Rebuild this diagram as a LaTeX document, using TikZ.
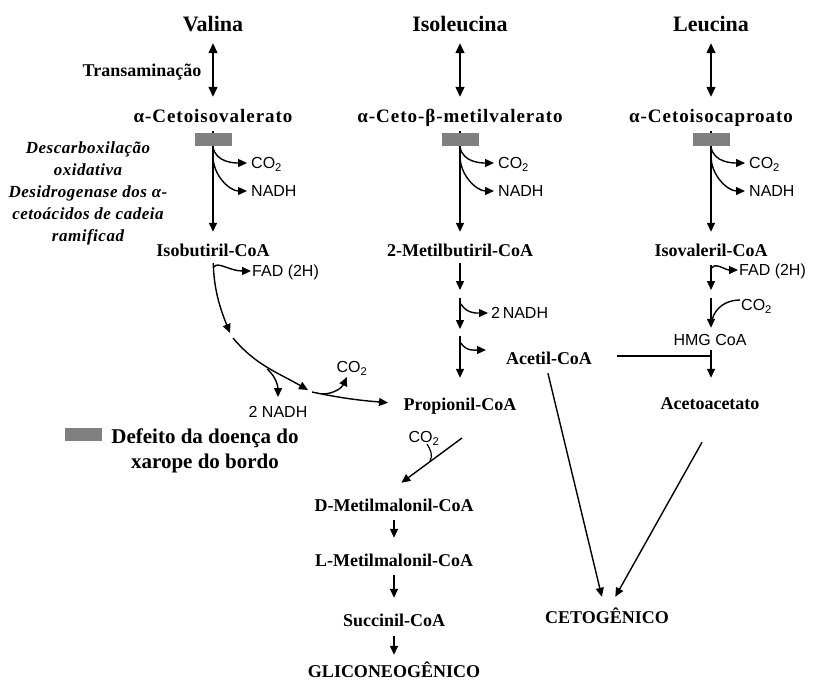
\documentclass[tikz,border=0pt]{standalone}
\usepackage{fontspec}
\setmainfont{Liberation Serif}
\setsansfont{Liberation Sans}
\usetikzlibrary{arrows.meta}

\tikzset{
  aa/.style={font=\bfseries\fontsize{22}{24}\selectfont, text height=14.5pt, text depth=0pt, inner sep=1pt},
  met/.style={font=\bfseries\fontsize{18}{20}\selectfont, text height=12pt, text depth=0pt, inner sep=1pt},
  ceto/.style={met, font={\bfseries\fontsize{19}{20}\selectfont\addfontfeature{LetterSpace=5}}},
  cof/.style={font=\sffamily\fontsize{16}{18}\selectfont, text height=11.5pt, text depth=0pt, inner sep=1pt},
  msud/.style={fill=gray, minimum width=37pt, minimum height=13pt, inner sep=0pt},
  legtext/.style={font=\bfseries\fontsize{21}{24}\selectfont, text height=13.8pt, text depth=0pt, inner sep=1pt},
  flow/.style={line width=1.4pt, -{Triangle[length=9pt,width=8pt]}},
  rev/.style={line width=1.4pt, {Triangle[length=10pt,width=9pt]}-{Triangle[length=10pt,width=9pt]}},
}

\begin{document}
\begin{tikzpicture}[x=1pt, y=-1pt]
\useasboundingbox (0,0) rectangle (816,682);

% === Amino acids and transamination ===
\node[aa] (val) at (213,24) {Valina};
\node[aa] (ile) at (460,24) {Isoleucina};
\node[aa] (leu) at (711,24) {Leucina};

\node[ceto] (kiv) at (213,117) {α-Cetoisovalerato};
\node[ceto] (kmv) at (460,117) {α-Ceto-β-metilvalerato};
\node[ceto] (kic) at (711,117) {α-Cetoisocaproato};

\node[met] (trans) at (142,71) {Transaminação};

\draw[rev, shorten <=10.75pt, shorten >=13pt] (val.south) -- (val.south |- kiv.north);
\draw[rev, shorten <=10.75pt, shorten >=13pt] (ile.south) -- (ile.south |- kmv.north);
\draw[rev, shorten <=10.75pt, shorten >=13pt] (leu.south) -- (leu.south |- kic.north);

% === Branched-chain dehydrogenase ===
\node[font={\bfseries\itshape\fontsize{17}{22}\selectfont\addfontfeature{LetterSpace=3}}, align=center, inner sep=0pt] (enz) at (88,193.5)
  {Descarboxilação\\oxidativa\\Desidrogenase dos α-\\cetoácidos de cadeia\\ramificad};

\node[met] (isob) at (213,250) {Isobutiril-CoA};
\node[met] (mbut) at (460,250) {2-Metilbutiril-CoA};
\node[met] (isov) at (711,250) {Isovaleril-CoA};

\draw[flow, shorten <=7pt, shorten >=11pt] (kiv) -- (isob);
\draw[flow, shorten <=7pt, shorten >=11pt] (kmv) -- (mbut);
\draw[flow, shorten <=7pt, shorten >=11pt] (kic) -- (isov);

\node[msud] (bv) at (213,139.5) {};
\node[msud] (bi) at (460,139.5) {};
\node[msud] (bl) at (711,139.5) {};

\node[cof, anchor=west] (cov) at (250,163) {CO\textsubscript{2}};
\node[cof, anchor=west] (nav) at (250,191) {NADH};
\node[cof, anchor=west] (coi) at (497,163) {CO\textsubscript{2}};
\node[cof, anchor=west] (nai) at (497,191) {NADH};
\node[cof, anchor=west] (col) at (748,163) {CO\textsubscript{2}};
\node[cof, anchor=west] (nal) at (748,191) {NADH};

\coordinate (v1) at (213,147);
\coordinate (v2) at (213,156);
\coordinate (i1) at (460,147);
\coordinate (i2) at (460,156);
\coordinate (l1) at (711,147);
\coordinate (l2) at (711,156);
\draw[flow, shorten >=3pt] (v1) to[out=-80,in=180] (cov.west);
\draw[flow, shorten >=3pt] (v2) to[out=-90,in=180] (nav.west);
\draw[flow, shorten >=3pt] (i1) to[out=-80,in=180] (coi.west);
\draw[flow, shorten >=3pt] (i2) to[out=-90,in=180] (nai.west);
\draw[flow, shorten >=3pt] (l1) to[out=-80,in=180] (col.west);
\draw[flow, shorten >=3pt] (l2) to[out=-90,in=180] (nal.west);

% === Valina branch ===
\node[cof, anchor=west] (fadv) at (251,271) {FAD (2H)};
\node[cof] (nadhv) at (278,412) {2 NADH};
\node[cof] (co2v) at (352,367) {CO\textsubscript{2}};
\node[met] (prop) at (460,404) {Propionil-CoA};

\coordinate (v3) at (214,267);
\coordinate (v4) at (230,333);
\coordinate (v5) at (233,338);
\coordinate (v6) at (308,390);
\coordinate (v7) at (267,369);
\coordinate (v8) at (312,392);
\coordinate (v9) at (322,394);

\draw[flow] (v3) .. controls (217,261) and (230,271) .. (fadv.west);
\draw[flow, shorten <=6pt] (isob.south) to[out=-88,in=112] (v4);
\draw[flow] (v5) to[out=-50,in=150] (v6);
\draw[flow, shorten >=8pt] (v7) to[out=-40,in=90] (nadhv.north);
\draw[flow, shorten >=14.5pt] (v8) to[out=-12,in=175] (prop.west);
\draw[flow] (v9) to[out=0,in=-115] ([xshift=-5pt,yshift=-3pt]co2v.south);

% === Isoleucina branch ===
\node[cof, anchor=west] (nadhi) at (490,313) {2\,NADH};
\node[met] (acet) at (549,358) {Acetil-CoA};

\coordinate (i3) at (460,290);
\coordinate (i4) at (460,298);
\coordinate (i5) at (460,329);
\coordinate (i6) at (461,304);
\coordinate (i7) at (460,336);
\coordinate (i8) at (461,343);
\coordinate (i9) at (486,350);

\draw[flow, shorten <=6pt] (mbut.south) -- (i3);
\draw[flow] (i4) -- (i5);
\draw[flow, shorten >=2pt] (i6) to[out=-60,in=180] (nadhi.west);
\draw[flow, shorten >=19pt] (i7) -- (prop.north);
\draw[flow] (i8) to[out=-60,in=180] (i9);

% === Leucina branch ===
\node[cof, anchor=west] (fadl) at (738,270) {FAD (2H)};
\node[cof, anchor=west] (co2l) at (740,305) {CO\textsubscript{2}};
\node[cof] (hmg) at (710,340) {HMG CoA};
\node[met] (aceta) at (710,403) {Acetoacetato};

\coordinate (l3) at (711,290);
\coordinate (l4) at (712,268);
\coordinate (l5) at (711,298);
\coordinate (l6) at (712,320);
\coordinate (tee) at (711,356);

\draw[flow, shorten <=8pt] (isov.south) -- (l3);
\draw[flow] (l4) .. controls (715,262) and (725,270) .. (fadl.west);
\draw[flow, shorten >=5.25pt] (l5) -- (l5 |- hmg.north);
\draw[line width=1.4pt] ([yshift=5pt]co2l.west) to[out=180,in=75] (l6);
\draw[flow, shorten <=3.25pt, shorten >=18pt] (hmg.south -| tee) -- (tee |- aceta.north);
\draw[line width=1.4pt, shorten <=24pt] (acet.east |- tee) -- (tee);

% === Propionil-CoA to succinil-CoA ===
\node[cof] (co2p) at (424,437) {CO\textsubscript{2}};
\node[met] (dmet) at (394,505) {D-Metilmalonil-CoA};
\node[met] (lmet) at (394,560) {L-Metilmalonil-CoA};
\node[met] (succ) at (394,620) {Succinil-CoA};
\node[met] (glic) at (394,671) {GLICONEOGÊNICO};
\node[met] (cetog) at (607,617) {CETOGÊNICO};

\coordinate (p0) at (462,438);
\coordinate (p1) at (430,461);

\draw[flow, shorten >=25.3pt] (p0) -- ([xshift=-13pt]dmet.north);
\draw[line width=1.2pt] ([xshift=3pt]co2p.south) to[out=-60,in=60] (p1);
\draw[flow, shorten <=8pt, shorten >=15pt] (dmet) -- (lmet);
\draw[flow, shorten <=8pt, shorten >=15pt] (lmet) -- (succ);
\draw[flow, shorten <=9pt, shorten >=9pt] (succ) -- (glic);

% === Ketogenic ===
\draw[flow, shorten <=8.2pt, shorten >=13.4pt] ([xshift=-3pt]acet.south) -- ([xshift=-2pt]cetog.north);
\draw[flow, shorten <=36.7pt, shorten >=14.9pt] ([xshift=10pt]aceta.south) -- ([xshift=1pt]cetog.north);

% === Legend ===
\node[msud] (legbox) at (83.5,434.5) {};
\node[legtext] (leg1) at (205,437) {Defeito da doença do};
\node[legtext] (leg2) at (205,462) {xarope do bordo};

\end{tikzpicture}
\end{document}
